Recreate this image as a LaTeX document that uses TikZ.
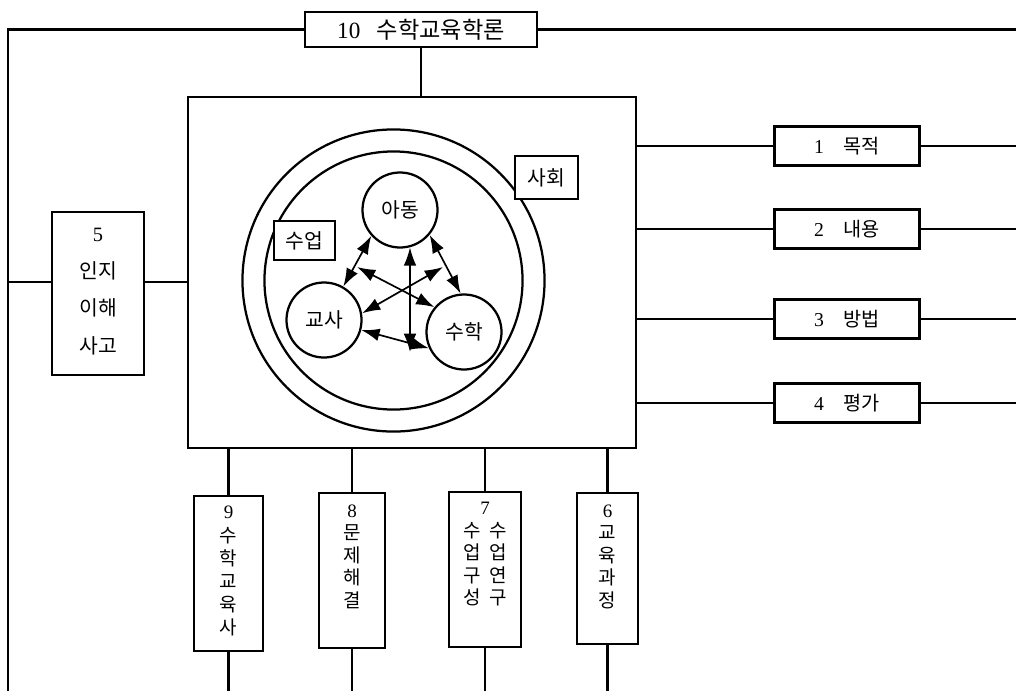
\documentclass[tikz,border=0pt]{standalone}
\usepackage{fontspec}
\setmainfont{Liberation Serif}
\newfontfamily\kr{Noto Sans CJK KR}
\usetikzlibrary{positioning, calc, arrows.meta}

\newcommand\nr[1]{{\rmfamily #1}}

\begin{document}
\begin{tikzpicture}[x=0.025cm, y=-0.025cm,
    box/.style={draw, line width=1.6pt, fill=white, inner sep=0pt},
    link/.style={line width=1.5pt},
    ring/.style={draw, circle, line width=1.6pt, inner sep=0pt, minimum size=1.875cm},
    twoway/.style={line width=1.2pt, {Latex[length=13pt,width=9pt]}-{Latex[length=13pt,width=9pt]}},
    lbl/.style={font=\kr\fontsize{14.5}{17}\selectfont},
    vtext/.style={font=\kr\fontsize{13.5}{16}\selectfont, align=center, inner sep=0pt}]
    \useasboundingbox (0,0) rectangle (1016,691);

    % edges of the page
    \coordinate (lft) at (8,0);
    \coordinate (rgt) at (1016,0);
    \coordinate (bot) at (0,691);
    \coordinate (row5) at (0,282);

    % 10 - top box
    \node[box, minimum width=5.8cm, minimum height=0.875cm, font=\kr\fontsize{16.5}{18}\selectfont] (top) at (421,29.5) {\nr{10}\hspace{0.7em}수학교육학론};

    % main frame
    \node[box, minimum width=11.2cm, minimum height=8.775cm] (main) at (412,272.5) {};

    % society and lesson rings
    \node[ring, minimum size=7.55cm] (soc) at (393.5,280.5) {};
    \node[ring, minimum size=6.45cm] (cls) at (393.5,280.5) {};
    \node[box, minimum width=1.575cm, minimum height=1.075cm, lbl] (socl) at (546.5,177.5) {사회};
    \node[box, minimum width=1.525cm, minimum height=0.975cm, lbl] (clsl) at (304.5,240.5) {수업};

    % child, teacher, mathematics
    \node[ring, lbl] (kid) at (400,210) {아동};
    \node[ring, lbl] (tch) at (324,320) {교사};
    \node[ring, lbl] (mth) at (464,332) {수학};

    % arrows between them
    \coordinate (xl) at (357,267);
    \coordinate (xr) at (443,267);
    \coordinate (xb) at (410,352);
    \draw[twoway] (kid.222) -- (tch.60);
    \draw[twoway] (kid.-40) -- (mth.95);
    \draw[twoway] (kid.-75) -- (xb);
    \draw[twoway] (xl) -- (mth.140);
    \draw[twoway] (xr) -- (tch.10);
    \draw[twoway] (tch.-15) -- (mth.205);

    % 1-4 - right boxes
    \foreach \n/\t/\y in {1/목적/146, 2/내용/229, 3/방법/319, 4/평가/403} {
        \node[box, minimum width=3.625cm, minimum height=0.975cm, font=\kr\fontsize{14}{17}\selectfont] (r\n) at (847,\y) {\nr{\n}\hspace{1em}\t};
        \draw[link] (main.east |- r\n) -- (r\n);
        \draw[link] (r\n) -- (r\n -| rgt);
    }

    % 5 - left box
    \node[box, minimum width=2.3cm, minimum height=4.075cm] (b5) at (98,293.5) {};
    \node[vtext, font=\kr\fontsize{14.5}{26.5}\selectfont, below=12pt of b5.north] (t5) {\nr{5}\\인지\\이해\\사고};

    % 9-6 - bottom boxes
    \node[box, minimum width=1.725cm, minimum height=3.875cm] (b9) at (228.5,573.5) {};
    \node[vtext, font=\kr\fontsize{13.5}{16.5}\selectfont, below=8pt of b9.north] (t9) {\nr{9}\\수\\학\\교\\육\\사};
    \node[box, minimum width=1.65cm, minimum height=3.875cm] (b8) at (352,570.5) {};
    \node[vtext, below=9pt of b8.north] (t8) {\nr{8}\\문\\제\\해\\결};
    \node[box, minimum width=1.8cm, minimum height=3.875cm] (b7) at (485,569.5) {};
    \node[vtext, below=8pt of b7.north] (t7) {\nr{7}\\수\hspace{6pt}수\\업\hspace{6pt}업\\구\hspace{6pt}연\\성\hspace{6pt}구};
    \node[box, minimum width=1.525cm, minimum height=3.775cm] (b6) at (607.5,568.5) {};
    \node[vtext, below=9pt of b6.north] (t6) {\nr{6}\\교\\육\\과\\정};

    % connectors
    \draw[link] (top) -- (top -| lft) -- (lft |- bot);
    \draw[link] (top) -- (top -| rgt);
    \draw[link] (top) -- (top |- main.north);
    \draw[link] (lft |- row5) -- (b5.west |- row5);
    \draw[link] (b5.east |- row5) -- (main.west |- row5);
    \foreach \b in {b9, b8, b7, b6} {
        \draw[link] (main.south -| \b) -- (\b);
        \draw[link] (\b) -- (\b |- bot);
    }
\end{tikzpicture}
\end{document}
